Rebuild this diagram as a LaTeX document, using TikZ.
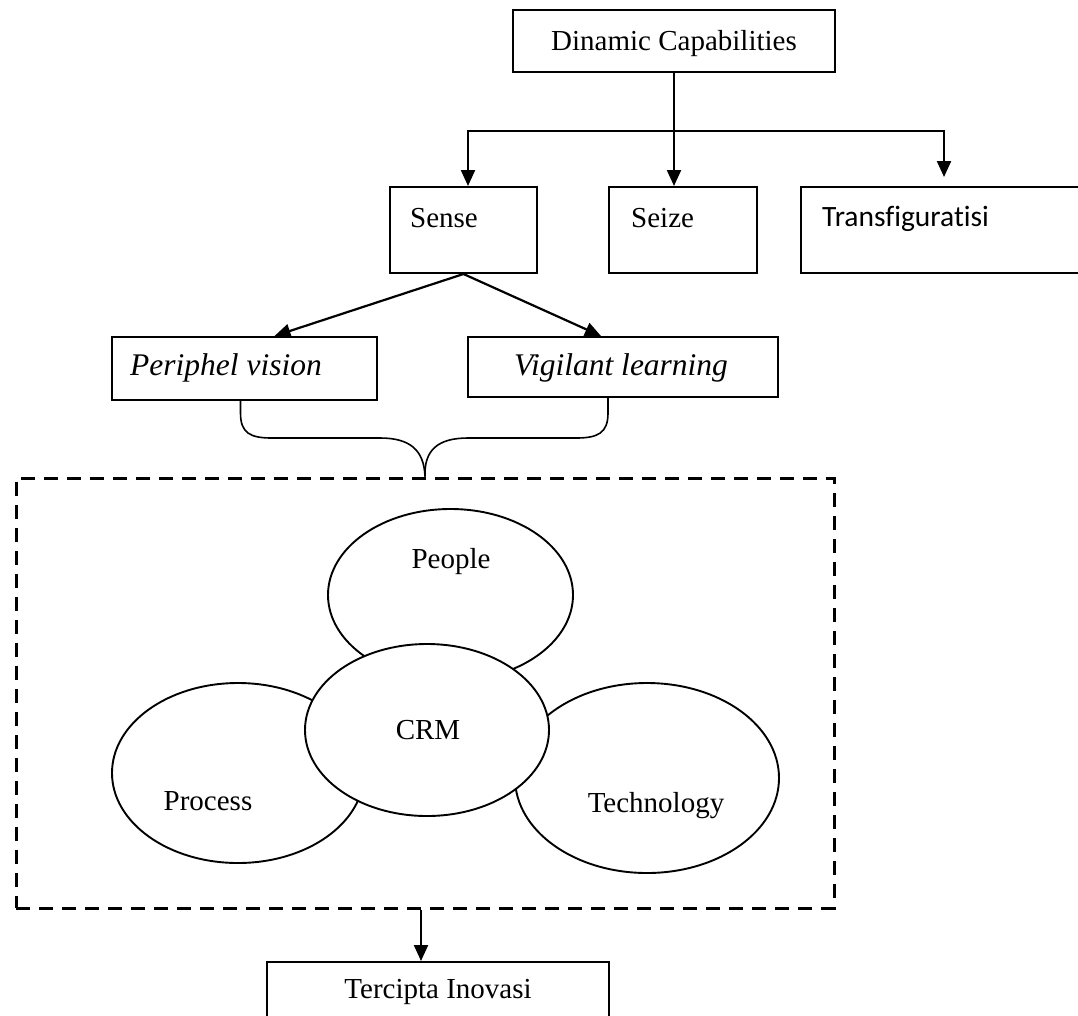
\documentclass[tikz,border=0pt]{standalone}
\usepackage{fontspec}
\setmainfont{Liberation Serif}
\newfontfamily\calib[Ligatures=NoCommon]{Carlito}
\usetikzlibrary{shapes.geometric,arrows.meta,calc}
\begin{document}
\begin{tikzpicture}[x=1pt,y=-1pt,
  box/.style={draw,line width=2pt,rectangle,inner sep=0pt},
  oval/.style={draw,line width=1.9pt,ellipse,inner sep=0pt},
  lbl/.style={inner sep=0pt,font=\fontsize{29}{34}\selectfont},
  ilbl/.style={inner sep=0pt,font=\fontsize{31.5}{36}\selectfont\itshape},
  conn/.style={line width=2.2pt},
  arr/.style={line width=2.2pt,-{Triangle[length=16pt,width=14pt]}}]
\useasboundingbox (0,0) rectangle (1078,1015);
% boxes
\node[box,minimum width=322pt,minimum height=62pt] (dc) at (674,41) {};
\node[box,minimum width=147pt,minimum height=86pt] (sense) at (463.5,230) {};
\node[box,minimum width=148pt,minimum height=86pt] (seize) at (683,230) {};
\node[box,minimum width=299pt,minimum height=86pt] (trans) at (950.5,230) {};
\node[box,minimum width=265pt,minimum height=63pt] (peri) at (244.5,368.5) {};
\node[box,minimum width=310pt,minimum height=60pt] (vig) at (623,367) {};
\node[draw,line width=3pt,dash pattern=on 14pt off 9pt,rectangle,inner sep=0pt,minimum width=818pt,minimum height=430pt] (dbox) at (425,693) {};
\node[box,minimum width=342pt,minimum height=68pt] (terc) at (438,996) {};
% ellipses
\node[oval,minimum width=245pt,minimum height=172pt] (people) at (450.5,595) {};
\node[oval,minimum width=252pt,minimum height=180pt] (process) at (238,773) {};
\node[oval,minimum width=264pt,minimum height=190pt] (tech) at (647,778) {};
\node[oval,fill=white,minimum width=244pt,minimum height=172pt] (crm) at (427,730) {};
% texts
\node[lbl,anchor=base] (tdc) at (674,50) {Dinamic Capabilities};
\node[lbl,anchor=base west] (tsense) at (410,227) {Sense};
\node[lbl,anchor=base west] (tseize) at (631,227) {Seize};
\node[lbl,anchor=base west,font=\calib\fontsize{29.5}{34}\selectfont] (ttrans) at (822,226) {Transfiguratisi};
\node[ilbl,anchor=base west] (tperi) at (130,375) {Periphel vision};
\node[ilbl,anchor=base west] (tvig) at (514,375) {Vigilant learning};
\node[lbl,anchor=base] (tpeople) at (451,568) {People};
\node[lbl,anchor=base] (tcrm) at (428,739) {CRM};
\node[lbl,anchor=base] (tprocess) at (208,810) {Process};
\node[lbl,anchor=base] (ttech) at (656,812) {Technology};
\node[lbl,anchor=base] (tterc) at (438,998) {Tercipta Inovasi};
% connectors from top box
\coordinate (hb) at (dc.south |- 0,131);
\coordinate (hl) at (468,131);
\coordinate (hr) at (944,131);
\coordinate (ttip) at (944,177);
\draw[conn] (dc.south) -- (hb);
\draw[conn,line cap=rect] (hl) -- (hr);
\draw[arr] (hl) -- (hl |- sense.north);
\draw[arr] (hb) -- (hb |- seize.north);
\draw[arr] (hr) -- (ttip);
% sense to children
\draw[arr] (sense.south) -- ($(peri.north)+(30,0)$);
\draw[arr] (sense.south) -- ($(vig.north)+(-22,0)$);
% brace
\coordinate (bl) at ($(peri.south)+(-4,0)$);
\coordinate (br) at ($(vig.south)+(-15,0)$);
\draw[line width=1.6pt] (bl) -- ++(0,12) .. controls ++(0,20) and (250,438) .. (272,438) -- (380,438) .. controls (410,438) and (424,450) .. (dbox.north);
\draw[line width=1.6pt] (br) -- ++(0,15) .. controls ++(0,20) and (598,438) .. (576,438) -- (468,438) .. controls (438,438) and (424,450) .. (dbox.north);
% bottom arrow
\coordinate (ds) at ($(dbox.south)+(-4,0)$);
\draw[arr] (ds) -- (ds |- terc.north);
\end{tikzpicture}
\end{document}
